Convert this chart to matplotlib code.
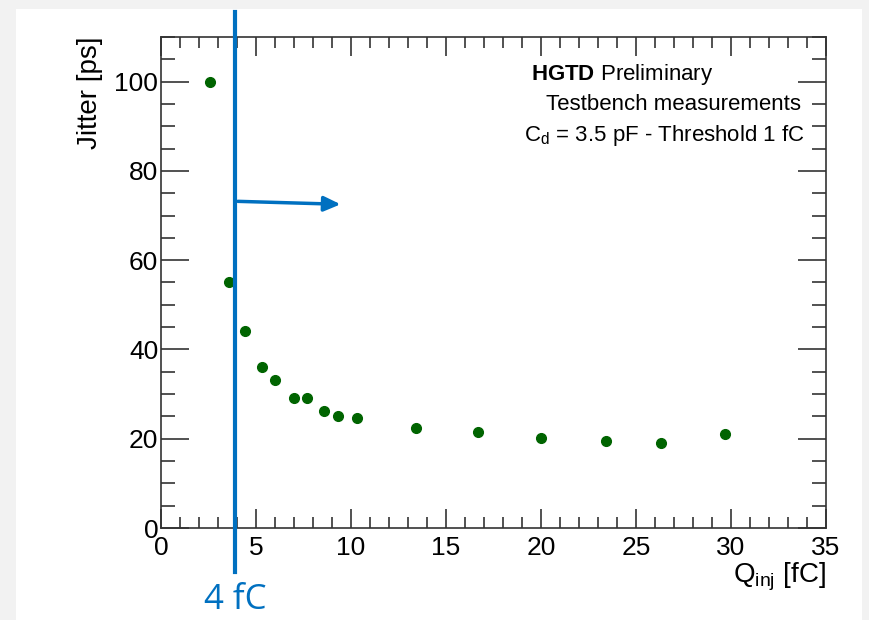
import numpy as np
import matplotlib.pyplot as plt
from matplotlib.ticker import MultipleLocator

plt.rcParams['font.family'] = ['Liberation Sans', 'DejaVu Sans']
plt.rcParams['mathtext.fontset'] = 'custom'
plt.rcParams['mathtext.rm'] = 'Liberation Sans'
plt.rcParams['mathtext.bf'] = 'Liberation Sans:bold'

# injected charge [fC] and measured jitter [ps]
q_inj = [2.6, 3.6, 4.4, 5.3, 6.0, 7.0, 7.7, 8.6, 9.3, 10.3, 13.4, 16.7, 20.0, 23.4, 26.3, 29.7]
jitter = [100.0, 55.0, 44.2, 36.1, 33.1, 29.1, 29.1, 26.2, 25.1, 24.6, 22.4, 21.5, 20.2, 19.5, 19.1, 21.1]
q_cut = 3.9  # "4 fC" marker line

fig = plt.figure(figsize=(8.69, 6.2), dpi=100)
fig.patch.set_facecolor('#f2f2f2')
# white slide area
fig.add_artist(plt.Rectangle((16/869, 0), (862-16)/869, 1 - 9/620,
                             transform=fig.transFigure, facecolor='white',
                             edgecolor='none', zorder=0))

ax = fig.add_axes([161/869, 1 - 528/620, (826-161)/869, (528-37)/620])
ax.set_facecolor('white')
ax.plot(q_inj, jitter, 'o', color='#006400', ms=7, zorder=3)

ax.set_xlim(0, 35)
ax.set_ylim(0, 110)
ax.xaxis.set_major_locator(MultipleLocator(5))
ax.xaxis.set_minor_locator(MultipleLocator(1))
ax.yaxis.set_major_locator(MultipleLocator(20))
ax.yaxis.set_minor_locator(MultipleLocator(5))
ax.tick_params(which='both', direction='in', top=True, right=True,
               labelsize=19, color='#333333', width=1.2)
ax.tick_params(axis='x', which='major', length=14, pad=6)
ax.tick_params(axis='x', which='minor', length=8)
ax.tick_params(axis='y', which='major', length=20, pad=2)
ax.tick_params(axis='y', which='minor', length=10)
for s in ax.spines.values():
    s.set_color('#333333')
    s.set_linewidth(1.2)

ax.set_ylabel('Jitter [ps]', fontsize=20, loc='top', labelpad=8)
ax.set_xlabel(r'Q$_{\mathrm{inj}}$ [fC]', fontsize=20, loc='right', labelpad=0)

# annotation text
ax.text(0.556, 0.923, r'$\mathbf{HGTD}$ Preliminary', transform=ax.transAxes,
        fontsize=16, ha='left', va='center')
ax.text(0.963, 0.862, 'Testbench measurements', transform=ax.transAxes,
        fontsize=16, ha='right', va='center')
ax.text(0.968, 0.800, r'C$_{\mathrm{d}}$ = 3.5 pF - Threshold 1 fC', transform=ax.transAxes,
        fontsize=16, ha='right', va='center')

# blue 4 fC line and arrow
ax.axvline(q_cut, ymin=-0.09, ymax=1.05, color='#0070c0', lw=3, clip_on=False, zorder=4)
ax.annotate('', xy=(9.6, 72.5), xytext=(q_cut, 73.2),
            arrowprops=dict(arrowstyle='-|>,head_length=1.0,head_width=0.45',
                            color='#0070c0', lw=2.5))
ax.text(q_cut, -0.147, '4 fC', transform=ax.get_xaxis_transform(), color='#0070c0',
        fontsize=25, ha='center', va='center', family=['Open Sans', 'DejaVu Sans'])

plt.savefig('out.png', dpi=100)
